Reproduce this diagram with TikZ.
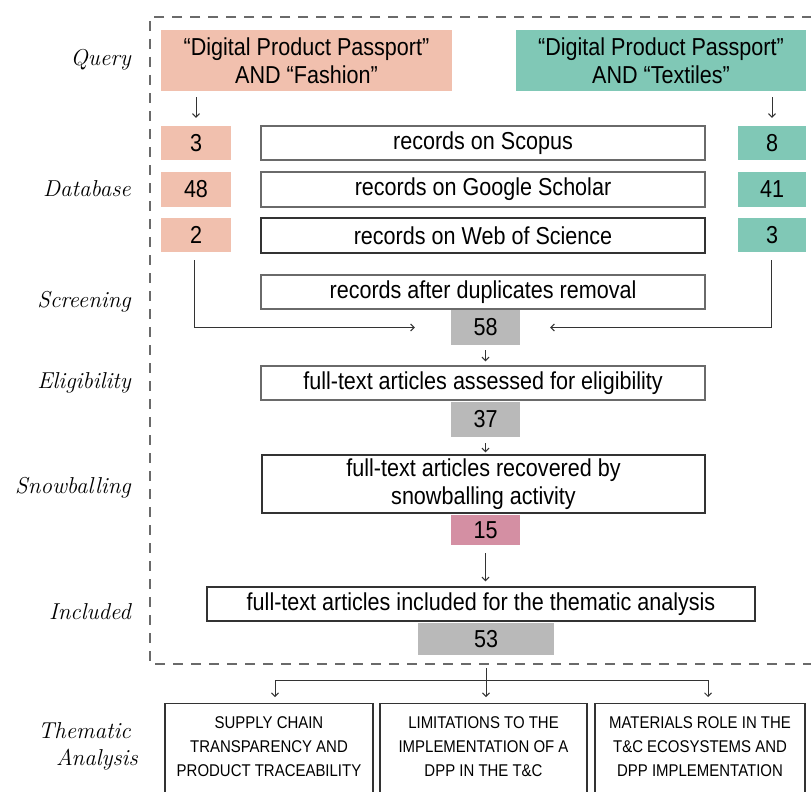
\documentclass[tikz,border=0pt]{standalone}
\usepackage{fontspec}
\newfontfamily\sansfam{Liberation Sans}[FakeStretch=0.88]
\usetikzlibrary{arrows.meta}
\definecolor{pinkq}{HTML}{F1C0AE}
\definecolor{tealq}{HTML}{80C8B6}
\definecolor{grayn}{HTML}{B9B9B9}
\definecolor{mauve}{HTML}{D48FA3}
\definecolor{edgec}{HTML}{6A6A6A}
\definecolor{linec}{HTML}{333333}
\tikzset{
  base/.style={rectangle, inner sep=0pt, align=center, font=\sansfam\fontsize{24.5}{28}\selectfont, text=black},
  fillbox/.style={base, draw=none},
  wbox/.style={base, draw=edgec, line width=1.4pt, fill=white},
  tbox/.style={rectangle, draw=linec, line width=1.2pt, inner sep=0pt},
  ttext/.style={inner sep=0pt, align=center, font=\sansfam\fontsize{17}{24}\selectfont},
  lbl/.style={anchor=east, inner sep=0pt, align=right, font=\itshape\fontsize{23}{27}\selectfont},
  arr/.style={draw=linec, line width=1pt, -{Straight Barb[length=3.5pt,width=7pt]}},
  conn/.style={draw=linec, line width=1pt},
}
\begin{document}
\begin{tikzpicture}[x=1pt,y=-1pt]
\useasboundingbox (0,0) rectangle (811,792);
\clip (0,0) rectangle (811,792);
\fill[white] (0,0) rectangle (811,792);
% dashed frame
\draw[draw=edgec, line width=1.2pt, dash pattern=on 10pt off 8pt] (830,17) -- (150,17) -- (150,664) -- (830,664);

% labels
\node[lbl] (lq) at (131,60) {Query};
\node[lbl] (ld) at (131,189) {Database};
\node[lbl] (ls) at (131,302) {Screening};
\node[lbl] (le) at (131,383) {Eligibility};
\node[lbl] (lsn) at (131,488) {Snowballing};
\node[lbl] (li) at (131,612) {Included};
\node[lbl, anchor=east] (lt) at (138,746) {Thematic\hspace*{7pt}\\Analysis};

% queries
\node[fillbox, fill=pinkq, minimum width=291pt, minimum height=61pt] (qf) at (306.5,60.5) {“Digital Product Passport”\\AND “Fashion”};
\node[fillbox, fill=tealq, minimum width=290pt, minimum height=61pt] (qt) at (661,60.5) {“Digital Product Passport”\\AND “Textiles”};

% database numbers
\node[fillbox, fill=pinkq, minimum width=70pt, minimum height=34pt] (f3) at (196,143) {3};
\node[fillbox, fill=pinkq, minimum width=70pt, minimum height=35pt] (f48) at (196,189.5) {48};
\node[fillbox, fill=pinkq, minimum width=70pt, minimum height=34pt] (f2) at (196,235) {2};
\node[fillbox, fill=tealq, minimum width=68pt, minimum height=34pt] (t8) at (772,143) {8};
\node[fillbox, fill=tealq, minimum width=68pt, minimum height=35pt] (t41) at (772,189.5) {41};
\node[fillbox, fill=tealq, minimum width=68pt, minimum height=34pt] (t3) at (772,235) {3};

% database boxes
\node[wbox, minimum width=444pt, minimum height=34pt] (scopus) at (483,143) {records on Scopus};
\node[wbox, minimum width=444pt, minimum height=35pt] (google) at (483,189.5) {records on Google Scholar};
\node[wbox, draw=linec, minimum width=444pt, minimum height=35pt] (wos) at (483,235.5) {records on Web of Science};

% screening
\node[wbox, minimum width=444pt, minimum height=34pt] (dup) at (483,292) {records after duplicates removal};
\node[fillbox, fill=grayn, minimum width=69pt, minimum height=35pt] (n58) at (485.5,327.5) {58};

% eligibility
\node[wbox, minimum width=444pt, minimum height=34pt] (elig) at (483,383) {full-text articles assessed for eligibility};
\node[fillbox, fill=grayn, minimum width=69pt, minimum height=35pt] (n37) at (485.5,419.5) {37};

% snowballing
\node[wbox, draw=linec, minimum width=443pt, minimum height=58pt, font=\sansfam\fontsize{24.5}{27.5}\selectfont] (snow) at (483.5,484) {full-text articles recovered by\\snowballing activity};
\node[fillbox, fill=mauve, minimum width=69pt, minimum height=30pt] (n15) at (485.5,530) {15};

% included
\node[wbox, draw=linec, minimum width=548pt, minimum height=34pt] (incl) at (481,604) {full-text articles included for the thematic analysis};
\node[fillbox, fill=grayn, minimum width=136pt, minimum height=32pt] (n53) at (486,639) {53};

% thematic boxes
\node[tbox, minimum width=208pt, minimum height=110pt, anchor=north] (th1) at (269,703) {};
\node[tbox, minimum width=207pt, minimum height=110pt, anchor=north] (th2) at (483.5,703) {};
\node[tbox, minimum width=210pt, minimum height=110pt, anchor=north] (th3) at (700,703) {};
\node[ttext] (th1t) at (269,747) {SUPPLY CHAIN\\TRANSPARENCY AND\\PRODUCT TRACEABILITY};
\node[ttext] (th2t) at (483.5,747) {LIMITATIONS TO THE\\IMPLEMENTATION OF A\\DPP IN THE T\&C};
\node[ttext] (th3t) at (700,747) {MATERIALS ROLE IN THE\\T\&C ECOSYSTEMS AND\\DPP IMPLEMENTATION};

% connectors
\draw[arr, shorten <=6pt, shorten >=8pt] (qf.south -| f3.center) -- (f3.north);
\draw[arr, shorten <=6pt, shorten >=8pt] (qt.south -| t8.center) -- (t8.north);
\draw[arr, shorten <=8pt, shorten >=36pt] ([xshift=-2pt]f2.south) |- (n58.west);
\draw[arr, shorten <=8pt, shorten >=30pt] ([xshift=-1pt]t3.south) |- (n58.east);
\draw[arr, shorten <=5pt, shorten >=4pt] (n58.south) -- (n58.south |- elig.north);
\draw[arr, shorten <=6pt, shorten >=2pt] (n37.south) -- (n37.south |- snow.north);
\draw[arr, shorten <=8pt, shorten >=5pt] (n15.south) -- (n15.south |- incl.north);
\coordinate (bm) at (486,680);
\coordinate (bl) at (275,680);
\coordinate (br) at (708,680);
\draw[conn, shorten <=13pt] (n53.south) -- (bm);
\draw[conn] (bl) -- (br);
\draw[arr, shorten >=6pt] (bl) -- (bl |- th1.north);
\draw[arr, shorten >=6pt] (bm) -- (bm |- th2.north);
\draw[arr, shorten >=6pt] (br) -- (br |- th3.north);
\end{tikzpicture}
\end{document}
